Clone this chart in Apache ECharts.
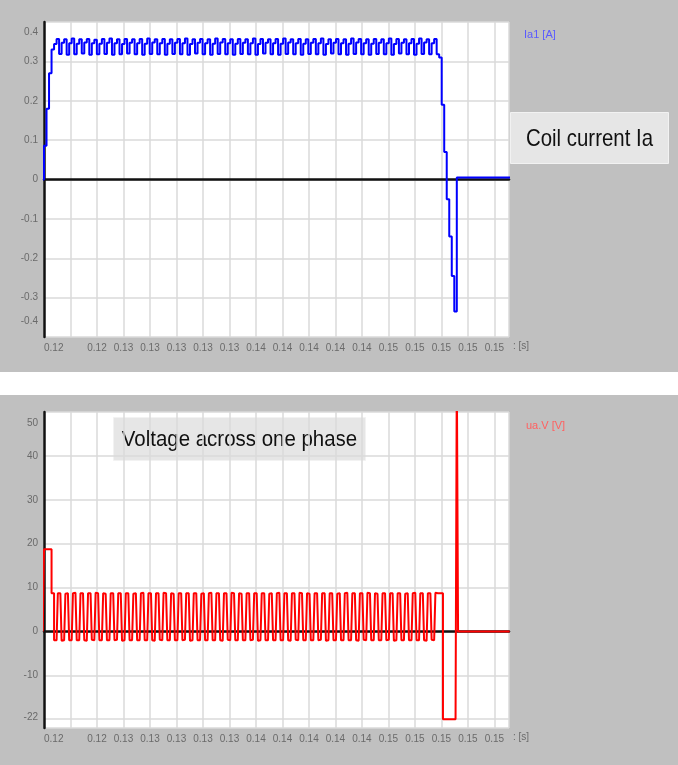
<!DOCTYPE html>
<html>
<head>
<meta charset="utf-8">
<script src="https://cdn.jsdelivr.net/npm/echarts@6/dist/echarts.min.js"></script>
<style>
  html, body { margin: 0; padding: 0; background: #fff; }
  #wrap { position: relative; width: 678px; height: 765px; overflow: hidden; }
  .panel { position: absolute; left: 0; width: 678px; background: #c0c0c0; }
  #chart { position: absolute; left: 0; top: 0; width: 678px; height: 765px; }
</style>
</head>
<body>
<div id="wrap">
  <div class="panel" style="top:0;height:372px"></div>
  <div class="panel" style="top:395px;height:370px"></div>
  <div id="chart"></div>
</div>
<script>
// Time axis shared by both plots [s]
const timeMin = 0.12;
const timeMax = 0.1551;
const timeTick = 0.002;

// Coil current Ia1 [A], sampled every currentStep seconds from currentStart
const currentStart = 0.11981;
const currentStep = 0.00019;
const currentValues = [
  0, 0.086, 0.18, 0.27, 0.33,
  0.344,0.357,0.319, 0.347,0.356,0.317, 0.346,0.358,0.318, 0.345,0.356,0.320, 0.348,0.357,0.317,
  0.346,0.355,0.318, 0.345,0.357,0.319, 0.347,0.358,0.317, 0.346,0.356,0.318, 0.344,0.357,0.320,
  0.347,0.356,0.318, 0.346,0.357,0.317, 0.345,0.358,0.319, 0.348,0.356,0.318, 0.346,0.357,0.317,
  0.345,0.356,0.319, 0.347,0.357,0.318, 0.346,0.358,0.317, 0.344,0.356,0.320, 0.347,0.357,0.318,
  0.346,0.356,0.317, 0.345,0.358,0.319, 0.348,0.357,0.318, 0.346,0.356,0.317, 0.345,0.357,0.319,
  0.347,0.356,0.318, 0.346,0.358,0.317, 0.344,0.357,0.320, 0.347,0.356,0.318, 0.346,0.357,0.317,
  0.345,0.358,0.319, 0.348,0.356,0.318, 0.346,0.357,0.317, 0.345,0.356,0.319, 0.347,0.357,0.318,
  0.346,0.358,0.317, 0.344,0.356,0.320, 0.347,0.357,0.318, 0.346,0.356,0.317, 0.345,0.358,0.319,
  0.348,0.357,0.318, 0.346,0.356,0.317, 0.345,0.357,0.319, 0.347,0.356,0.318, 0.346,0.358,0.317,
  0.344,0.357,0.320, 0.347,0.356,0.318, 0.346,0.357,0.317, 0.345,0.358,0.319, 0.348,0.356,0.318,
  0.346,0.357,0.318,
  0.31, 0.19, 0.07, -0.05, -0.145, -0.245, -0.335,
  0.005, 0.005, 0.005, 0.005, 0.005, 0.005, 0.005, 0.005, 0.005, 0.005, 0.005, 0.005,
  0.005, 0.005, 0.005, 0.005, 0.005, 0.005, 0.005, 0.005, 0.005, 0.005, 0.005
];

// Phase voltage uaV [V], sampled every voltageStep seconds from voltageStart
const voltageStart = 0.119905;
const voltageStep = 0.000095;
const voltageValues = [
  0, 18.7, 18.7, 18.7, 18.7, 18.7, 18.7, 8.7, 8.7,
  -2,-2,-2,8.7,8.7,8.7, -2.1,-2,-2,8.6,8.7,8.7, -2,-2,-1.9,8.7,8.8,8.7,
  -2,-2,-2,8.7,8.7,8.6, -2,-2.1,-2,8.7,8.7,8.7, -1.9,-2,-2,8.8,8.7,8.7,
  -2,-2,-2,8.7,8.6,8.7, -2,-2,-2.1,8.7,8.7,8.7, -2,-1.9,-2,8.7,8.7,8.8,
  -2.1,-2,-2,8.7,8.7,8.7, -2,-2,-2,8.6,8.7,8.7, -2,-2,-1.9,8.7,8.8,8.7,
  -2,-2,-2,8.7,8.7,8.6, -2,-2.1,-2,8.7,8.7,8.7, -1.9,-2,-2,8.8,8.7,8.7,
  -2,-2,-2,8.7,8.6,8.7, -2,-2,-2.1,8.7,8.7,8.7, -2,-1.9,-2,8.7,8.7,8.8,
  -2.1,-2,-2,8.7,8.7,8.7, -2,-2,-2,8.6,8.7,8.7, -2,-2,-1.9,8.7,8.8,8.7,
  -2,-2,-2,8.7,8.7,8.6, -2,-2.1,-2,8.7,8.7,8.7, -1.9,-2,-2,8.8,8.7,8.7,
  -2,-2,-2,8.7,8.6,8.7, -2,-2,-2.1,8.7,8.7,8.7, -2,-1.9,-2,8.7,8.7,8.8,
  -2.1,-2,-2,8.7,8.7,8.7, -2,-2,-2,8.6,8.7,8.7, -2,-2,-1.9,8.7,8.8,8.7,
  -2,-2,-2,8.7,8.7,8.6, -2,-2.1,-2,8.7,8.7,8.7, -1.9,-2,-2,8.8,8.7,8.7,
  -2,-2,-2,8.7,8.6,8.7, -2,-2,-2.1,8.7,8.7,8.7, -2,-1.9,-2,8.7,8.7,8.8,
  -2.1,-2,-2,8.7,8.7,8.7, -2,-2,-2,8.6,8.7,8.7, -2,-2,-1.9,8.7,8.8,8.7,
  -2,-2,-2,8.7,8.7,8.6, -2,-2.1,-2,8.7,8.7,8.7, -1.9,-2,-2,8.8,8.7,8.7,
  -2,-2,-2,8.7,8.6,8.7, -2,-2,-2.1,8.7,8.7,8.7, -2,-1.9,-2,8.7,8.7,8.8,
  -2.1,-2,-2,8.7,8.7,8.7, -2,-2,-2,8.6,8.7,8.7, -2,-2,-1.9,8.7,8.8,8.7,
  -2,-2,-2,8.7,8.7,8.6, -2,-2.1,-2,8.7,8.7,8.7, -1.9,-2,-2,8.8,8.7,8.7,
  8.7, 8.7, 8.7,
  -20, -20, -20, -20, -20, -20, -20, -20, -20, -20, -20,
  60,
  0, 0, 0, 0, 0, 0, 0, 0, 0, 0, 0, 0, 0, 0, 0, 0, 0, 0, 0, 0, 0,
  0, 0, 0, 0, 0, 0, 0, 0, 0, 0, 0, 0, 0, 0, 0, 0, 0, 0, 0, 0, 0
];

// Value axis ranges
const currentAxis = { min: -0.4, max: 0.4, step: 0.1 };
const voltageAxis = { min: -22, max: 50, splits: 7 };
const hiddenTimeLabels = [0.122];
const hiddenVoltageLabels = [-20];

const currentName = 'Ia1 [A]';
const voltageName = 'ua.V [V]';

function sampled(start, step, values) {
  return values.map((v, i) => [start + i * step, v]);
}

const axisGray = '#6a6a6a';
const gridGray = '#dadada';
const labelFont = 'Liberation Sans';

function timeAxis(gridIndex) {
  return {
    type: 'value', gridIndex,
    min: timeMin, max: timeMax, interval: timeTick,
    axisLine: { show: false, onZero: false },
    axisTick: { show: false },
    splitLine: { show: true, lineStyle: { color: gridGray, width: 1.5 } },
    axisLabel: {
      color: axisGray, fontSize: 10, margin: 6, fontFamily: labelFont,
      alignMinLabel: 'left', showMaxLabel: false,
      formatter: v => hiddenTimeLabels.some(h => Math.abs(h - v) < 1e-9) ? '' : v.toFixed(2)
    },
    name: ': [s]', nameLocation: 'end', nameGap: 4,
    nameTextStyle: { color: axisGray, fontSize: 10, fontFamily: labelFont, verticalAlign: 'top', padding: [4, 0, 0, 0] }
  };
}

// Thick black zero line of each plot, drawn beneath the traces
function zeroAxis(gridIndex) {
  return {
    type: 'value', gridIndex, position: 'bottom',
    min: timeMin, max: timeMax,
    axisLine: { show: true, onZero: true, lineStyle: { color: '#111', width: 2.5 } },
    axisTick: { show: false }, axisLabel: { show: false }, splitLine: { show: false }
  };
}

const chart = echarts.init(document.getElementById('chart'), null, { renderer: 'canvas' });
chart.setOption({
  animation: false,
  backgroundColor: 'transparent',
  grid: [
    { left: 44, top: 22, width: 465, height: 315, show: true, backgroundColor: '#fff', borderWidth: 0 },
    { left: 44, top: 412, width: 465, height: 316, show: true, backgroundColor: '#fff', borderWidth: 0 }
  ],
  legend: [
    { data: [currentName], left: 519, top: 28, padding: 0, icon: 'none', itemWidth: 0, itemGap: 0, selectedMode: false,
      textStyle: { color: '#5a5aff', fontSize: 11, fontFamily: labelFont } },
    { data: [voltageName], left: 521, top: 419, padding: 0, icon: 'none', itemWidth: 0, itemGap: 0, selectedMode: false,
      textStyle: { color: '#ff6060', fontSize: 11, fontFamily: labelFont } }
  ],
  xAxis: [timeAxis(0), timeAxis(1), zeroAxis(0), zeroAxis(1)],
  yAxis: [
    {
      type: 'value', gridIndex: 0,
      min: currentAxis.min, max: currentAxis.max, interval: currentAxis.step,
      axisLine: { show: true, onZero: false, lineStyle: { color: '#111', width: 2.5 } },
      axisTick: { show: false },
      splitLine: { show: true, lineStyle: { color: gridGray, width: 1.5 } },
      axisLabel: {
        color: axisGray, fontSize: 10, margin: 6, fontFamily: labelFont,
        formatter: v => {
          const s = v === 0 ? '0' : String(Math.round(v * 10) / 10);
          if (Math.abs(v - currentAxis.max) < 1e-9) return '{hi|' + s + '}';
          if (Math.abs(v - currentAxis.min) < 1e-9) return '{lo|' + s + '}';
          return s;
        },
        rich: { hi: { padding: [20, 0, 0, 0] }, lo: { padding: [0, 0, 32, 0] } }
      }
    },
    {
      type: 'value', gridIndex: 1,
      min: voltageAxis.min, max: voltageAxis.max, splitNumber: voltageAxis.splits,
      axisLine: { show: true, onZero: false, lineStyle: { color: '#111', width: 2.5 } },
      axisTick: { show: false },
      splitLine: { show: true, lineStyle: { color: gridGray, width: 1.5 } },
      axisLabel: {
        color: axisGray, fontSize: 10, margin: 6, fontFamily: labelFont,
        formatter: v => {
          if (hiddenVoltageLabels.includes(v)) return '';
          if (v === voltageAxis.max) return '{hi|' + v + '}';
          if (v === voltageAxis.min) return '{lo|' + v + '}';
          return String(v);
        },
        rich: { hi: { padding: [22, 0, 0, 0] }, lo: { padding: [0, 0, 22, 0] } }
      }
    }
  ],
  graphic: [
    {
      type: 'group', left: 510, top: 112,
      children: [
        { type: 'rect', shape: { x: 0, y: 0, width: 158, height: 51 },
          style: { fill: '#e6e6e6', stroke: '#f2f2f2', lineWidth: 1 } },
        { type: 'text', x: 79, y: 27, scaleX: 0.85,
          style: { text: 'Coil current Ia', fontSize: 24, fontFamily: labelFont, fill: '#111',
                   align: 'center', verticalAlign: 'middle' } }
      ]
    },
    {
      type: 'group', left: 113, top: 417,
      children: [
        { type: 'rect', shape: { x: 0, y: 0, width: 252, height: 43 },
          style: { fill: '#e6e6e6', stroke: '#f2f2f2', lineWidth: 1 } },
        { type: 'text', x: 126, y: 22, scaleX: 0.93,
          style: { text: 'Voltage across one phase', fontSize: 22, fontFamily: labelFont, fill: '#111',
                   align: 'center', verticalAlign: 'middle' } }
      ]
    }
  ],
  series: [
    {
      name: currentName, type: 'line', xAxisIndex: 0, yAxisIndex: 0, z: 3,
      step: 'end', showSymbol: false, clip: true,
      lineStyle: { color: '#0000ff', width: 2 }, itemStyle: { color: '#0000ff' },
      data: sampled(currentStart, currentStep, currentValues)
    },
    {
      name: voltageName, type: 'line', xAxisIndex: 1, yAxisIndex: 1, z: 3,
      step: 'end', showSymbol: false, clip: true,
      lineStyle: { color: '#ff0000', width: 2 }, itemStyle: { color: '#ff0000' },
      data: sampled(voltageStart, voltageStep, voltageValues)
    }
  ]
});
</script>
</body>
</html>
